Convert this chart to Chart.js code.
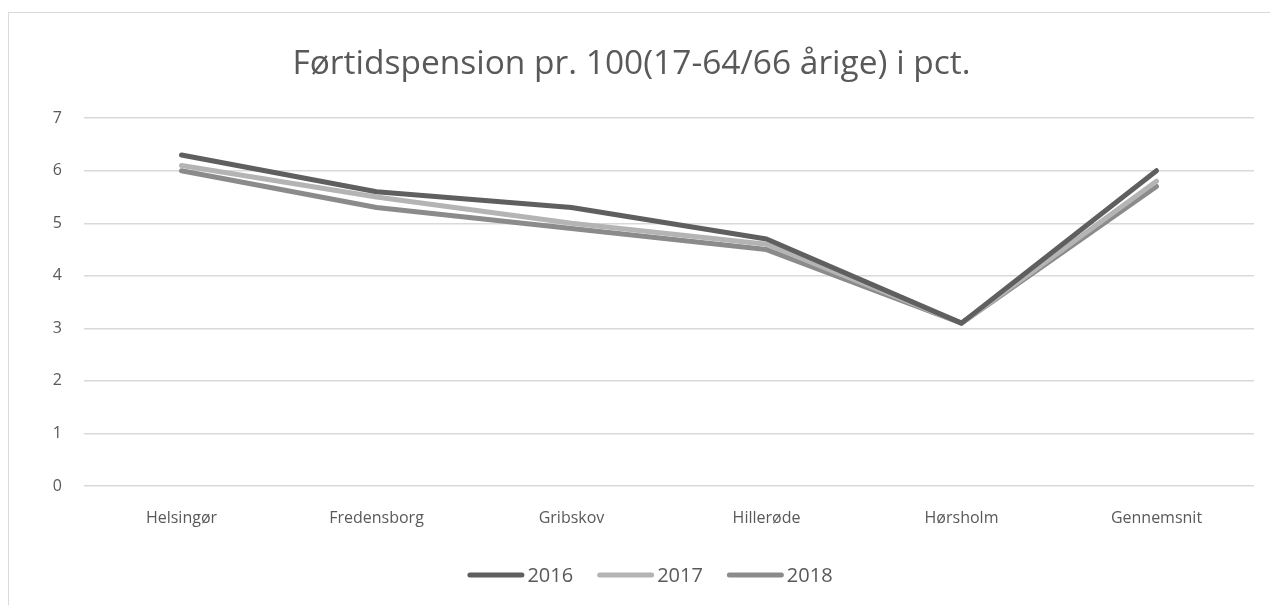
<!DOCTYPE html>
<html>
<head>
<meta charset="utf-8">
<script src="https://cdn.jsdelivr.net/npm/chart.js@4/dist/chart.umd.min.js"></script>
<style>
  html, body { margin: 0; padding: 0; background: #fff; overflow: hidden; }
  #ramme {
    position: absolute; left: 8px; top: 12px;
    width: 1262px; height: 593px;
    border-left: 1px solid #d9d9d9; border-top: 1px solid #d9d9d9;
  }
</style>
</head>
<body>
<div id="ramme"><canvas id="pensionChart" width="1261" height="592"></canvas></div>
<script>
// Kommuner langs x-aksen
const kommuner = ['Helsingør', 'Fredensborg', 'Gribskov', 'Hillerøde', 'Hørsholm', 'Gennemsnit'];

// Førtidspension pr. 100 (17-64/66 årige) i pct.
const aar2016 = [6.3, 5.6, 5.3, 4.7, 3.1, 6.0];
const aar2017 = [6.1, 5.5, 5.0, 4.6, 3.1, 5.8];
const aar2018 = [6.0, 5.3, 4.9, 4.5, 3.1, 5.7];

const tekstFarve = '#595959';
const gitterFarve = '#d9d9d9';
const skrift = "'Open Sans', sans-serif";

function serie(label, values, farve) {
    return {
        label: label,
        data: values,
        borderColor: farve,
        backgroundColor: farve,
        borderWidth: 5,
        borderCapStyle: 'round',
        borderJoinStyle: 'round',
        pointRadius: 0,
        pointHoverRadius: 0,
        tension: 0,
        fill: false
    };
}

// Forklaring i bunden: streg tæt op ad teksten, som i Excel
const bundForklaring = {
    id: 'bundForklaring',
    afterDraw(chart) {
        const ctx = chart.ctx;
        const stregLaengde = 52, mellemrum = 8, afstand = 24;
        const midte = 641, y = 562;
        ctx.save();
        ctx.font = '20px ' + skrift;
        const bredder = chart.data.datasets.map(ds => ctx.measureText(ds.label).width);
        const total = bredder.reduce((sum, b) => sum + stregLaengde + mellemrum + b, 0)
            + afstand * (bredder.length - 1);
        let x = midte - total / 2;
        chart.data.datasets.forEach((ds, i) => {
            ctx.strokeStyle = ds.borderColor;
            ctx.lineWidth = 5;
            ctx.lineCap = 'round';
            ctx.beginPath();
            ctx.moveTo(x + 2.5, y);
            ctx.lineTo(x + stregLaengde + 2.5, y);
            ctx.stroke();
            ctx.fillStyle = tekstFarve;
            ctx.textBaseline = 'middle';
            ctx.textAlign = 'left';
            ctx.fillText(ds.label, x + stregLaengde + mellemrum, y + 1);
            x += stregLaengde + mellemrum + bredder[i] + afstand;
        });
        ctx.restore();
    }
};

const config = {
    type: 'line',
    data: {
        labels: kommuner,
        datasets: [
            serie('2016', aar2016, '#5f5f5f'),
            serie('2017', aar2017, '#b4b4b4'),
            serie('2018', aar2018, '#8b8b8b')
        ]
    },
    options: {
        responsive: false,
        animation: false,
        layout: { padding: { left: 0, right: 16, top: 0, bottom: 59 } },
        plugins: {
            title: {
                display: true,
                text: 'Førtidspension pr. 100(17-64/66 årige) i pct.',
                color: tekstFarve,
                font: { family: skrift, size: 33.5, weight: 'normal' },
                padding: { top: 31, bottom: 34 }
            },
            legend: { display: false },
            tooltip: { enabled: false }
        },
        scales: {
            x: {
                offset: true,
                grid: { display: false },
                border: { display: false },
                ticks: {
                    color: tekstFarve,
                    font: { family: skrift, size: 16 },
                    padding: 15,
                    maxRotation: 0
                },
                afterFit: (scale) => { scale.height = 60; }
            },
            y: {
                min: 0,
                max: 7,
                ticks: {
                    stepSize: 1,
                    color: tekstFarve,
                    font: { family: skrift, size: 16 },
                    padding: 22
                },
                grid: { color: gitterFarve, lineWidth: 1.5, drawTicks: false },
                border: { display: false },
                afterFit: (scale) => { scale.width = 75; }
            }
        }
    },
    plugins: [bundForklaring]
};

new Chart(document.getElementById('pensionChart'), config);
</script>
</body>
</html>
